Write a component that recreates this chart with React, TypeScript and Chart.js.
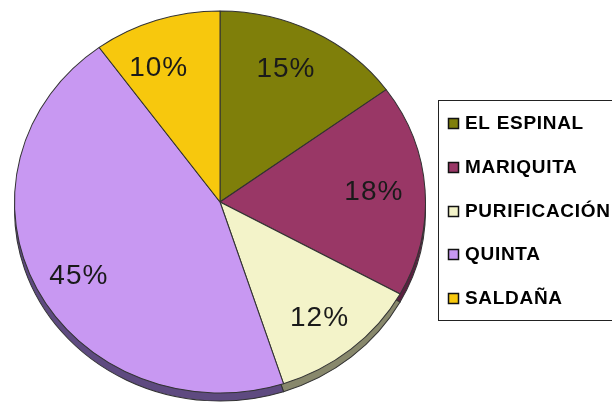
import React, { useEffect, useRef } from "react";
import { Chart, registerables } from "chart.js";

Chart.register(...registerables);

// ---- data ----
const categories = ["EL ESPINAL", "MARIQUITA", "PURIFICACIÓN", "QUINTA", "SALDAÑA"];
const values = [15, 18, 12, 45, 10];
const percentLabels = values.map((v) => `${v}%`);

// ---- style ----
const colors = ["#7F7F0A", "#993766", "#F3F3C9", "#C898F2", "#F7C80D"];
const edgeColors = ["#4a4a10", "#5a2040", "#88886c", "#5e4a80", "#8a7010"];
const SX = 206 / 202;
const SY = 191.5 / 202;
const EDGE = 8;
const LABEL_R = 0.76;
const labelNudge: [number, number][] = [
  [-5, -3],
  [-2, -1],
  [0, 4],
  [-2, 8],
  [-13, 4],
];

const pieStyle = {
  id: "pieStyle",
  beforeDatasetsDraw(chart: any) {
    const meta = chart.getDatasetMeta(0);
    const ctx = chart.ctx as CanvasRenderingContext2D;
    const a0 = meta.data[0];
    const cx = a0.x;
    const cy = a0.y;
    // 3D edge below the pie
    ctx.save();
    ctx.translate(cx, cy + EDGE);
    ctx.scale(SX, SY);
    meta.data.forEach((arc: any, i: number) => {
      const { startAngle, endAngle, outerRadius } = arc.getProps(["startAngle", "endAngle", "outerRadius"]);
      ctx.beginPath();
      ctx.moveTo(0, 0);
      ctx.arc(0, 0, outerRadius, startAngle, endAngle);
      ctx.closePath();
      ctx.fillStyle = edgeColors[i];
      ctx.fill();
      ctx.lineWidth = 1;
      ctx.strokeStyle = "#333";
      ctx.stroke();
    });
    ctx.restore();
    ctx.save();
    ctx.translate(cx, cy);
    ctx.scale(SX, SY);
    ctx.translate(-cx, -cy);
  },
  afterDatasetsDraw(chart: any) {
    const ctx = chart.ctx as CanvasRenderingContext2D;
    ctx.restore();
    const meta = chart.getDatasetMeta(0);
    ctx.save();
    ctx.font = "28px 'Liberation Sans', Arial, sans-serif";
    (ctx as any).letterSpacing = "1px";
    ctx.fillStyle = "#1a1a1a";
    ctx.textAlign = "center";
    ctx.textBaseline = "middle";
    meta.data.forEach((arc: any, i: number) => {
      const { startAngle, endAngle, outerRadius, x, y } = arc.getProps(["startAngle", "endAngle", "outerRadius", "x", "y"]);
      const mid = (startAngle + endAngle) / 2;
      const r = outerRadius * LABEL_R;
      const lx = x + r * SX * Math.cos(mid) + labelNudge[i][0];
      const ly = y + r * SY * Math.sin(mid) + labelNudge[i][1];
      ctx.fillText(percentLabels[i], lx, ly);
    });
    ctx.restore();
  },
  afterDraw(chart: any) {
    const ctx = chart.ctx as CanvasRenderingContext2D;
    const ds = chart.data.datasets[0];
    ctx.save();
    ctx.fillStyle = "#ffffff";
    ctx.fillRect(438.5, 100.5, 200, 220);
    ctx.strokeStyle = "#222";
    ctx.lineWidth = 1;
    ctx.strokeRect(438.5, 100.5, 200, 220);
    ctx.font = "bold 19px 'Liberation Sans', Arial, sans-serif";
    (ctx as any).letterSpacing = "0.7px";
    ctx.textBaseline = "middle";
    ctx.textAlign = "left";
    chart.data.labels.forEach((lab: string, i: number) => {
      const yy = Math.round(123 + i * 43.75);
      ctx.fillStyle = ds.backgroundColor[i];
      ctx.fillRect(448.5, yy - 4.5, 10, 10);
      ctx.strokeStyle = "#111";
      ctx.lineWidth = 1.5;
      ctx.strokeRect(448.5, yy - 4.5, 10, 10);
      ctx.fillStyle = "#000";
      ctx.fillText(lab, 465, yy + 1);
    });
    ctx.restore();
  },
};

export default function App() {
  const ref = useRef<HTMLCanvasElement>(null);
  useEffect(() => {
    document.body.style.margin = "0";
    const chart = new Chart(ref.current!, {
      type: "pie",
      data: {
        labels: categories,
        datasets: [
          {
            data: values,
            backgroundColor: colors,
            borderColor: "#333",
            borderWidth: 1,
            clip: false,
          } as any,
        ],
      },
      options: {
        responsive: false,
        animation: false,
        layout: { padding: { left: 18, right: 190, top: 0, bottom: 7 } },
        plugins: { legend: { display: false }, tooltip: { enabled: false } },
      },
      plugins: [pieStyle],
    });
    return () => chart.destroy();
  }, []);
  return (
    <div style={{ position: "absolute", left: 0, top: 0, width: 612, height: 411, background: "#fff" }}>
      <canvas ref={ref} width={612} height={411} style={{ width: 612, height: 411 }} />
    </div>
  );
}
